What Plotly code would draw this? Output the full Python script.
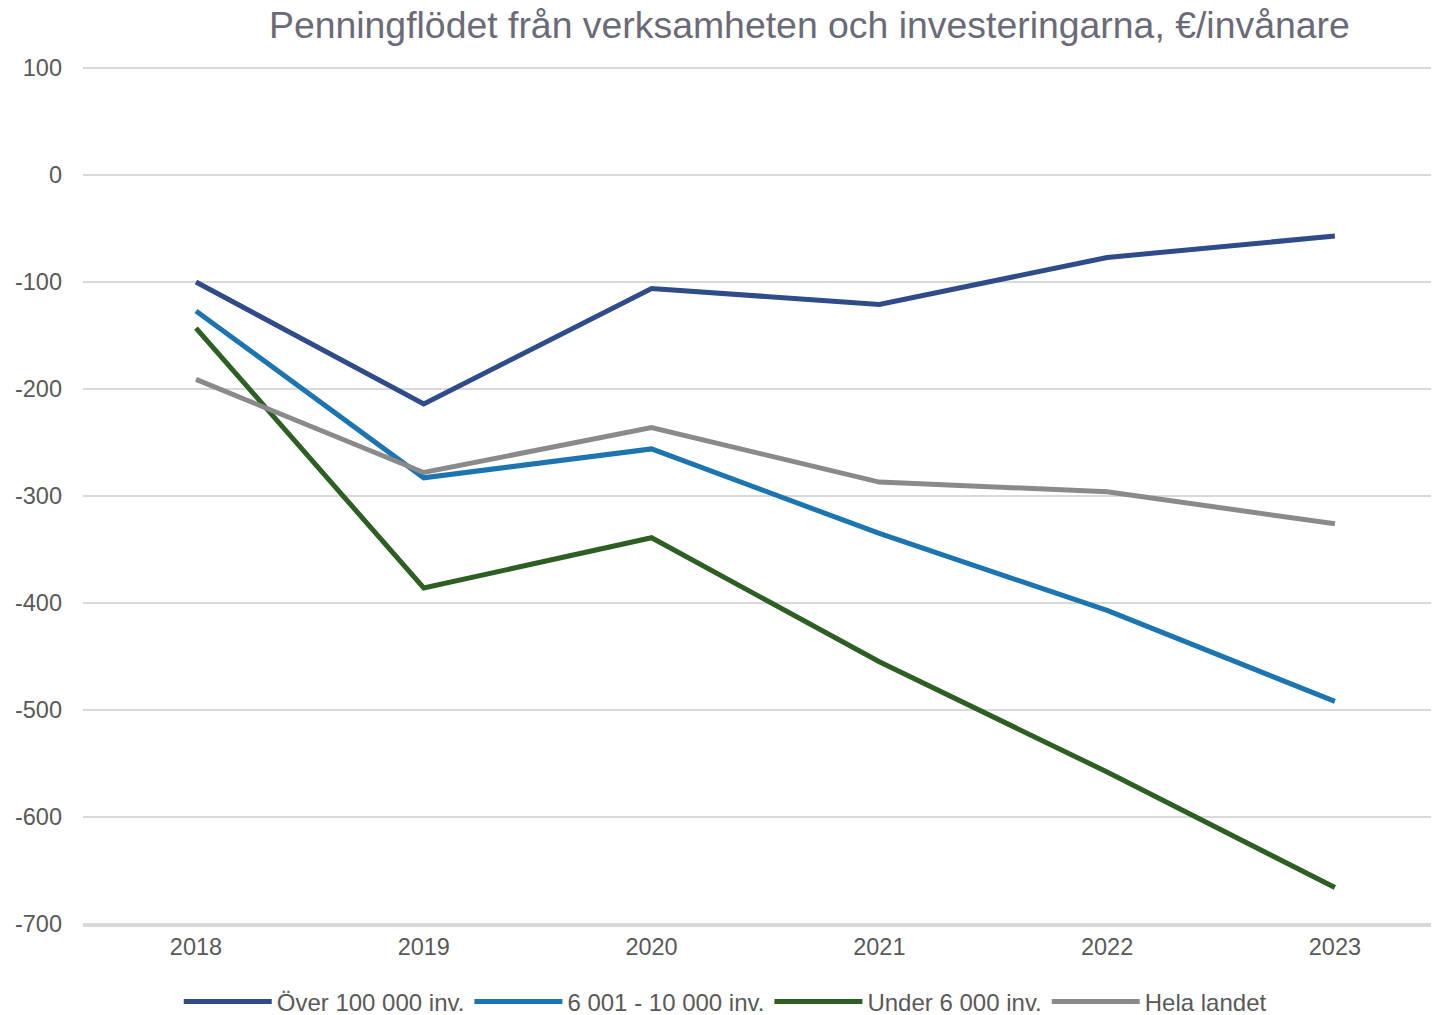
import plotly.graph_objects as go

# data
ar = ["2018", "2019", "2020", "2021", "2022", "2023"]
over_100000 = [-100, -214, -106, -121, -77, -57]
mellan_6001_10000 = [-127, -283, -256, -335, -407, -492]
under_6000 = [-143, -386, -339, -455, -558, -666]
hela_landet = [-191, -278, -236, -287, -296, -326]
y_ticks = [100, 0, -100, -200, -300, -400, -500, -600, -700]

serier = [
    ("Över 100 000 inv.", over_100000, "#2F4B8A"),
    ("6 001 - 10 000 inv.", mellan_6001_10000, "#1C75B0"),
    ("Under 6 000 inv.", under_6000, "#2D5E22"),
    ("Hela landet", hela_landet, "#8A8A8A"),
]

fig = go.Figure()
for namn, varden, farg in serier:
    fig.add_trace(go.Scatter(x=ar, y=varden, name=namn, mode="lines",
                             line=dict(color=farg, width=5)))

# sidan har 8px marginal runt figuren
fig.update_layout(
    width=1431, height=1007,
    paper_bgcolor="white", plot_bgcolor="white",
    font=dict(family="Liberation Sans, Arial, sans-serif", color="#595959", size=23.5),
    title=dict(text="Penningflödet från verksamheten och investeringarna, €/invånare",
               x=0.560, xanchor="center", y=0.983, yanchor="middle",
               font=dict(size=37.4, color="#6b6a78")),
    margin=dict(l=75, r=0, t=59, b=90),
    showlegend=True,
    legend=dict(orientation="h", x=0.0706, xanchor="left", yref="container",
                y=0.013, yanchor="middle", itemwidth=88,
                font=dict(size=24, color="#595959"), tracegroupgap=0),
)
fig.update_xaxes(type="category", range=[-0.496, 5.457], showgrid=False,
                 showline=True, linecolor="#d9d9d9", linewidth=1.5, ticks="",
                 automargin=False)
fig.update_yaxes(range=[-701, 101], tickvals=y_ticks,
                 ticktext=[str(v) for v in y_ticks],
                 showgrid=True, gridcolor="#d9d9d9", gridwidth=1.5,
                 zeroline=False, ticks="", ticklabelstandoff=20, automargin=False)

fig.write_html("out.html")
